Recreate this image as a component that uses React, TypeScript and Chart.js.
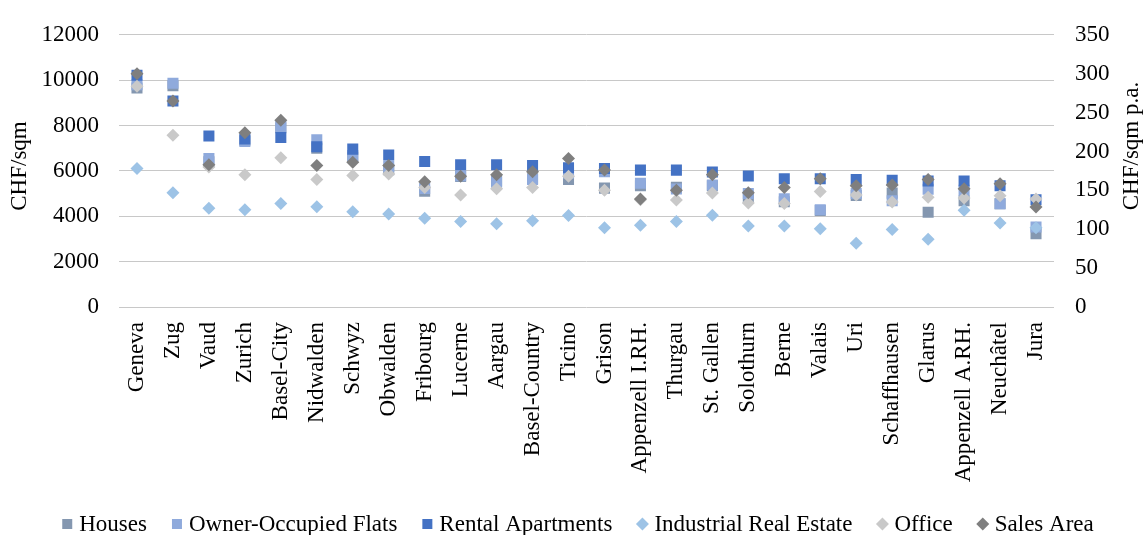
import { useEffect, useRef } from "react";
import { Chart, registerables } from "chart.js";

Chart.register(...registerables);

// Cantons, ordered by rental apartment prices
const cantons = [
  "Geneva", "Zug", "Vaud", "Zurich", "Basel-City", "Nidwalden", "Schwyz", "Obwalden",
  "Fribourg", "Lucerne", "Aargau", "Basel-Country", "Ticino", "Grison", "Appenzell I.RH.",
  "Thurgau", "St. Gallen", "Solothurn", "Berne", "Valais", "Uri", "Schaffhausen", "Glarus",
  "Appenzell A.RH.", "Neuchâtel", "Jura",
];

// Purchase prices, CHF/sqm (left axis)
const houses = [
  9650, 9750, 6400, 7350, 7900, 7000, 6600, 6050, 5100, 5750, 5550, 5650, 5620,
  5240, 5350, 5280, 5350, 4850, 4640, 4250, 4920, 5020, 4180, 4680, 4550, 3230,
];
const ownerFlats = [
  9800, 9860, 6550, 7300, 7960, 7370, 6680, 6200, 5230, 5790, 5500, 5620, 5900,
  5960, 5460, 5200, 5380, 5000, 4770, 4285, 5000, 4680, 5190, 5150, 4550, 3530,
];

// Rents, CHF/sqm p.a. (right axis)
const rentalApartments = [
  298, 265, 220, 216, 218, 206, 203, 195.5, 187, 183, 183, 182, 179,
  178, 176, 176, 173.5, 168.5, 165, 165, 164, 163, 162, 162, 156, 138,
];
const industrial = [
  178, 147, 127, 125, 133, 129, 122.5, 119.5, 114, 110, 107, 111, 117.5,
  102, 105, 110, 118, 104, 104, 100.5, 82, 99.7, 87, 124.5, 108, 102,
];
const office = [
  284, 221, 180, 170, 192, 164, 169, 171, 153.5, 144, 152, 153.5, 168,
  150, 138, 137.7, 146.5, 133.6, 133, 148.5, 144, 135, 141, 140, 143, 139,
];
const salesArea = [
  300, 265, 183, 224, 240, 182, 186, 182, 161, 168, 170, 174, 191,
  176, 139, 150, 170, 147, 153.5, 165, 156, 157, 164, 152, 158.5, 128.7,
];

const leftTicks = { min: 0, max: 12000, step: 2000 };
const rightTicks = { min: 0, max: 350, step: 50 };

const FONT = "'Liberation Serif', 'Times New Roman', serif";
const FONT_SIZE = 23;

type SeriesDef = {
  label: string;
  data: number[];
  color: string;
  style: "rect" | "rectRot";
  axis: "y" | "y1";
  order: number;
};

const series: SeriesDef[] = [
  { label: "Houses", data: houses, color: "#8497B0", style: "rect", axis: "y", order: 6 },
  { label: "Owner-Occupied Flats", data: ownerFlats, color: "#8FAADC", style: "rect", axis: "y", order: 5 },
  { label: "Rental Apartments", data: rentalApartments, color: "#4472C4", style: "rect", axis: "y1", order: 4 },
  { label: "Industrial Real Estate", data: industrial, color: "#9DC3E6", style: "rectRot", axis: "y1", order: 3 },
  { label: "Office", data: office, color: "#C9C9C9", style: "rectRot", axis: "y1", order: 2 },
  { label: "Sales Area", data: salesArea, color: "#7F7F7F", style: "rectRot", axis: "y1", order: 1 },
];

export default function App() {
  const canvasRef = useRef<HTMLCanvasElement>(null);

  useEffect(() => {
    const canvas = canvasRef.current;
    if (!canvas) return;

    // Axis titles (both read bottom-to-top) and the legend row
    const decorations = {
      id: "decorations",
      afterDraw(chart: Chart) {
        const ctx = chart.ctx;
        ctx.save();
        ctx.fillStyle = "#000";
        ctx.font = `${FONT_SIZE}px ${FONT}`;
        ctx.textAlign = "center";
        ctx.textBaseline = "middle";

        ctx.save();
        ctx.translate(20, 166);
        ctx.rotate(-Math.PI / 2);
        ctx.fillText("CHF/sqm", 0, 0);
        ctx.restore();

        ctx.save();
        ctx.translate(1132, 146);
        ctx.rotate(-Math.PI / 2);
        ctx.fillText("CHF/sqm p.a.", 0, 0);
        ctx.restore();

        // legend
        const box = 10;
        const gapText = 7;
        const gapItem = 25;
        const widths = series.map((s) => box + gapText + ctx.measureText(s.label).width);
        const total = widths.reduce((a, b) => a + b, 0) + gapItem * (series.length - 1);
        let x = 578 - total / 2;
        const cy = 524;
        ctx.textAlign = "left";
        ctx.textBaseline = "alphabetic";
        series.forEach((s, i) => {
          ctx.fillStyle = s.color;
          const cx = x + box / 2;
          if (s.style === "rect") {
            ctx.fillRect(x, cy - box / 2, box, box);
          } else {
            const r = 6.5;
            ctx.beginPath();
            ctx.moveTo(cx, cy - r);
            ctx.lineTo(cx + r, cy);
            ctx.lineTo(cx, cy + r);
            ctx.lineTo(cx - r, cy);
            ctx.closePath();
            ctx.fill();
          }
          ctx.fillStyle = "#000";
          ctx.fillText(s.label, x + box + gapText, 531);
          x += widths[i] + gapItem;
        });
        ctx.restore();
      },
    };

    const chart = new Chart(canvas, {
      type: "line",
      data: {
        labels: cantons,
        datasets: series.map((s) => ({
          label: s.label,
          data: s.data,
          yAxisID: s.axis,
          order: s.order,
          showLine: false,
          pointStyle: s.style,
          pointRadius: s.style === "rect" ? 7.8 : 6.5,
          pointHoverRadius: s.style === "rect" ? 7.8 : 6.5,
          pointBorderWidth: 0,
          backgroundColor: s.color,
          borderColor: s.color,
          pointBackgroundColor: s.color,
          pointBorderColor: s.color,
        })),
      },
      options: {
        responsive: false,
        animation: false,
        devicePixelRatio: 1,
        layout: { padding: { top: 25, bottom: 30, left: 0, right: 0 } },
        plugins: {
          legend: { display: false },
          tooltip: { enabled: false },
        },
        scales: {
          x: {
            type: "category",
            offset: true,
            grid: { display: false, drawTicks: false },
            border: { display: false },
            ticks: {
              autoSkip: false,
              maxRotation: 90,
              minRotation: 90,
              padding: 15,
              color: "#000",
              font: { family: FONT, size: FONT_SIZE },
            },
            afterFit: (scale: any) => {
              scale.height = 535 - 30 - 307;
            },
          },
          y: {
            position: "left",
            min: leftTicks.min,
            max: leftTicks.max,
            ticks: {
              stepSize: leftTicks.step,
              padding: 20,
              color: "#000",
              font: { family: FONT, size: FONT_SIZE },
              callback: (v: any) => String(v),
            },
            grid: { color: "#C8C8C8", drawTicks: false, lineWidth: 1 },
            border: { display: false },
            afterFit: (scale: any) => {
              scale.width = 119;
            },
          },
          y1: {
            position: "right",
            min: rightTicks.min,
            max: rightTicks.max,
            ticks: {
              stepSize: rightTicks.step,
              padding: 21,
              color: "#000",
              font: { family: FONT, size: FONT_SIZE },
              callback: (v: any) => String(v),
            },
            grid: { display: false, drawTicks: false },
            border: { display: false },
            afterFit: (scale: any) => {
              scale.width = 1145 - 1054;
            },
          },
        },
      },
      plugins: [decorations],
    });

    return () => chart.destroy();
  }, []);

  return (
    <canvas
      ref={canvasRef}
      width={1145}
      height={535}
      style={{ position: "absolute", left: 0, top: 0, width: 1145, height: 535, background: "#fff" }}
    />
  );
}
